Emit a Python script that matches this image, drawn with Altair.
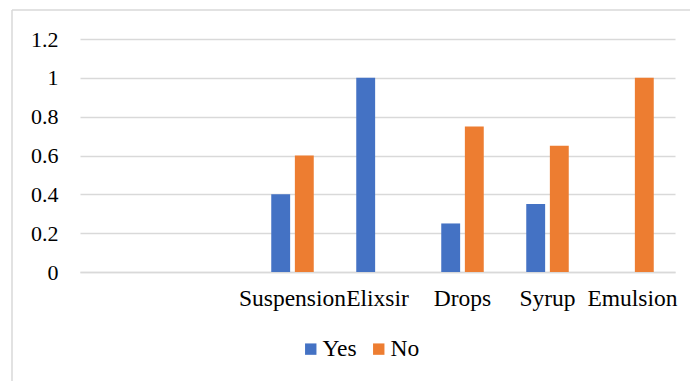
import altair as alt
import pandas as pd

categories = [" ", "  ", "Suspension", "Elixsir", "Drops", "Syrup", "Emulsion"]
data_categories = ["Suspension", "Elixsir", "Drops", "Syrup", "Emulsion"]
yes_values = [0.4, 1.0, 0.25, 0.35, 0.0]
no_values = [0.6, 0.0, 0.75, 0.65, 1.0]
series = ["Yes", "No"]
colors = ["#4472C4", "#ED7D31"]
y_ticks = [0, 0.2, 0.4, 0.6, 0.8, 1.0, 1.2]

rows = []
for c, y, n in zip(data_categories, yes_values, no_values):
    rows.append({"category": c, "series": "Yes", "value": y})
    rows.append({"category": c, "series": "No", "value": n})
df = pd.DataFrame(rows)

FONT = "Times New Roman, Liberation Serif, serif"
GRID = "#D9D9D9"

bars = alt.Chart(df).mark_bar().encode(
    x=alt.X("category:N", sort=categories,
            scale=alt.Scale(domain=categories, paddingInner=0.5, paddingOuter=0.25),
            axis=alt.Axis(title=None, labelAngle=0, ticks=False, domainColor=GRID,
                          domainWidth=1.3, labelPadding=14, labelFontSize=23.5,
                          labelFont=FONT, labelColor="#000000",
                          labelExpr="datum.label")),
    xOffset=alt.XOffset("series:N", sort=series,
                        scale=alt.Scale(domain=series, paddingInner=0.2, paddingOuter=0)),
    y=alt.Y("value:Q", scale=alt.Scale(domain=[0, 1.2], nice=False),
            axis=alt.Axis(title=None, values=y_ticks, ticks=False, domain=False,
                          gridColor=GRID, gridWidth=1.3, labelPadding=22,
                          labelFontSize=22, labelFont=FONT, labelColor="#000000",
                          labelExpr="datum.value == 0 ? '0' : format(datum.value, '.1~f')")),
    color=alt.Color("series:N", sort=series,
                    scale=alt.Scale(domain=series, range=colors),
                    legend=alt.Legend(title=None, orient="none", direction="horizontal",
                                      legendX=219, legendY=298, symbolType="square",
                                      symbolSize=130, symbolStrokeWidth=0,
                                      labelFontSize=23.5, labelFont=FONT, labelColor="#000000",
                                      labelOffset=0, columnPadding=10,
                                      labelExpr="datum.label")),
)

border_df = pd.DataFrame({"a": [0]})
top_border = alt.Chart(border_df).mark_rule(color=GRID, strokeWidth=1.5).encode(
    x=alt.value(-68), x2=alt.value(640), y=alt.value(-29))
left_border = alt.Chart(border_df).mark_rule(color=GRID, strokeWidth=1.5).encode(
    x=alt.value(-68), y=alt.value(-29), y2=alt.value(360))

chart = alt.layer(top_border, left_border, bars).properties(
    width=595, height=233,
    autosize=alt.AutoSizeParams(type="none"),
    padding={"left": 80, "top": 39, "right": 15, "bottom": 109},
).configure(
    background="#FFFFFF",
    font=FONT,
    view=alt.ViewConfig(stroke=None),
    axis=alt.AxisConfig(labelFont=FONT),
    legend=alt.LegendConfig(labelFont=FONT),
)

chart.save("out.html", embed_options={"renderer": "svg", "actions": False})
